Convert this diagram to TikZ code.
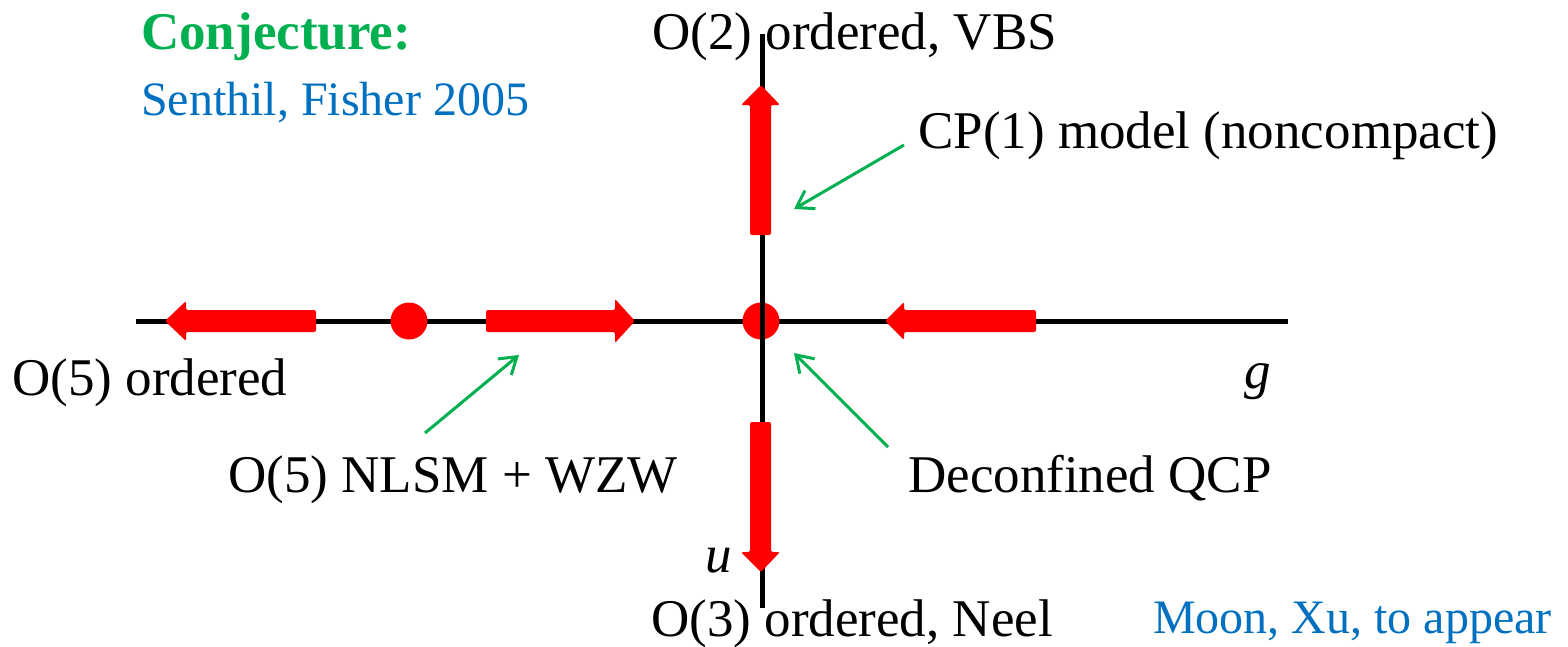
\documentclass[tikz,border=0pt]{standalone}
\usepackage{fontspec}
\setmainfont{Liberation Serif}
\usetikzlibrary{arrows.meta}
\definecolor{cgreen}{RGB}{0,176,80}
\definecolor{cblue}{RGB}{0,112,192}
\definecolor{cred}{RGB}{255,0,0}
\tikzset{
  axis/.style={line width=5pt, black},
  flow/.style={fill=cred, rounded corners=2pt},
  fixpt/.style={circle, fill=cred, minimum size=37pt, inner sep=0pt},
  pointer/.style={cgreen, line width=3pt, -{Straight Barb[length=16pt,width=21pt,line width=3pt]}},
  lbl/.style={anchor=base west, inner sep=0pt, font=\fontsize{53}{60}\selectfont},
  ref/.style={anchor=base west, inner sep=0pt, text=cblue, font=\fontsize{48}{56}\selectfont},
}
\begin{document}
\begin{tikzpicture}[x=1pt, y=-1pt]
\useasboundingbox (0,0) rectangle (1568,646);
% horizontal axis
\coordinate (hl) at (136,321);
\coordinate (hr) at (1288,321);
\draw[axis] (hl) -- (hr);
% fixed points
\node[fixpt] (fp1) at (409,321) {};
\node[fixpt] (fp2) at (761,321) {};
% horizontal flow arrows
\fill[flow] (165,321) -- (186,301) -- (186,310) -- (316,310) -- (316,332) -- (186,332) -- (186,341) -- cycle;
\fill[flow] (486,310) -- (615,310) -- (615,299) -- (635,321) -- (615,343) -- (615,332) -- (486,332) -- cycle;
\fill[flow] (885,321) -- (904,302) -- (904,310) -- (1036,310) -- (1036,332) -- (904,332) -- (904,340) -- cycle;
% vertical axis
\coordinate (vt) at (762,34);
\coordinate (vb) at (762,608);
\draw[axis] (vt) -- (vb);
% vertical flow arrows
\fill[flow] (761,85) -- (780,105) -- (771,105) -- (771,235) -- (750,235) -- (750,105) -- (741,105) -- cycle;
\fill[flow] (750,422) -- (771,422) -- (771,552) -- (780,552) -- (761,572) -- (741,552) -- (750,552) -- cycle;
% labels
\node[lbl, text=cgreen, font=\fontsize{53}{60}\selectfont\bfseries] (conj) at (141,49) {Conjecture:};
\node[ref] (sf) at (141,115) {Senthil, Fisher 2005};
\node[lbl] (o2) at (652,49) {O(2) ordered, VBS};
\node[lbl] (cp1) at (918,148) {CP(1) model (noncompact)};
\node[lbl] (o5) at (12,395) {O(5) ordered};
\node[lbl] (g) at (1244,388) {\itshape g};
\node[lbl] (wzw) at (228,492) {O(5) NLSM + WZW};
\node[lbl] (dqcp) at (908,492) {Deconfined QCP};
\node[lbl] (u) at (705,572) {\itshape u};
\node[lbl] (o3) at (651,636) {O(3) ordered, Neel};
\node[ref] (mx) at (1153,633) {Moon, Xu, to appear};
% green pointers
\coordinate (p1s) at (425,433);
\coordinate (p1e) at (519,355);
\coordinate (p2s) at (904,145);
\coordinate (p2e) at (794,209);
\coordinate (p3s) at (888,447);
\coordinate (p3e) at (794,353);
\draw[pointer] (p1s) -- (p1e);
\draw[pointer] (p2s) -- (p2e);
\draw[pointer] (p3s) -- (p3e);
\end{tikzpicture}
\end{document}
